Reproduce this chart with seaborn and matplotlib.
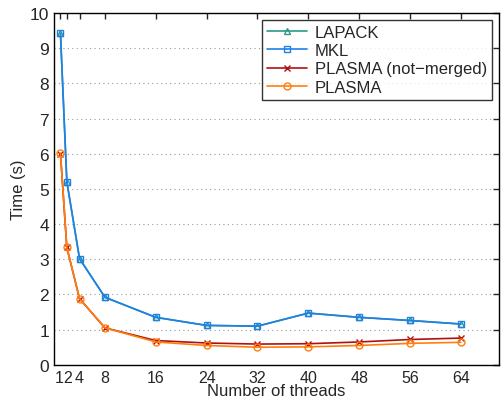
import seaborn as sns
import matplotlib.pyplot as plt
import matplotlib.transforms as mtrans
import pandas as pd

threads = [1, 2, 4, 8, 16, 24, 32, 40, 48, 56, 64]
lapack = [9.42, 5.21, 3.02, 1.92, 1.35, 1.12, 1.10, 1.47, 1.35, 1.26, 1.16]
mkl = [9.42, 5.21, 3.02, 1.92, 1.35, 1.12, 1.10, 1.47, 1.35, 1.26, 1.16]
plasma_nm = [6.00, 3.34, 1.88, 1.05, 0.69, 0.62, 0.59, 0.60, 0.65, 0.72, 0.76]
plasma = [6.02, 3.34, 1.88, 1.05, 0.65, 0.55, 0.50, 0.51, 0.55, 0.61, 0.64]

names = ['LAPACK', 'MKL', 'PLASMA (not\u2212merged)', 'PLASMA']
series = [lapack, mkl, plasma_nm, plasma]
colors = ['#2a9a8a', '#2080e8', '#b01010', '#ff7f0e']
marks = ['^', 's', 'x', 'o']

sns.set_style('white')
plt.rcParams['font.family'] = ['Liberation Sans', 'DejaVu Sans']
plt.rcParams['font.size'] = 12

fig = plt.figure(figsize=(5.01, 4.02), dpi=100)
ax = fig.add_axes([0.108, 0.09, 0.888, 0.875])

for n, s, c, m in zip(names, series, colors, marks):
    d = pd.DataFrame({'threads': threads, 'time': s})
    sns.lineplot(data=d, x='threads', y='time', color=c, marker=m, ax=ax,
                 label=n, markersize=5, linewidth=1.2, mfc='none',
                 mec=c, mew=1.0)

ax.set_xlim(0, 70)
ax.set_ylim(0, 10)
ax.set_xticks(threads)
ax.set_xticklabels([str(t) for t in threads], fontsize=11.5)
ax.set_yticks(range(11))
ax.tick_params(axis='y', labelsize=12.5)
ax.tick_params(direction='in', top=True, right=True, length=4, width=1)
ax.yaxis.grid(True, linestyle=(0, (1, 3)), color='#999999', linewidth=0.8)
ax.xaxis.grid(False)
for sp in ax.spines.values():
    sp.set_color('black')
    sp.set_linewidth(1.0)

# nudge the crowded "1" and "2" labels apart a little
xl = ax.get_xticklabels()
for lab, dx in [(xl[0], -1.5), (xl[1], 0.5)]:
    lab.set_transform(lab.get_transform() +
                      mtrans.ScaledTranslation(dx / 100, 0, fig.dpi_scale_trans))

ax.set_xlabel('Number of threads', fontsize=12, labelpad=-1)
ax.set_ylabel('Time (s)', fontsize=12, labelpad=3)

leg = ax.legend(loc='upper right', fontsize=12, frameon=True, fancybox=False,
                borderaxespad=0.4, handlelength=2.4, labelspacing=0.2,
                borderpad=0.3, handletextpad=0.5)
leg.get_frame().set_edgecolor('black')
leg.get_frame().set_linewidth(1.0)

fig.savefig('out.png', dpi=100)
